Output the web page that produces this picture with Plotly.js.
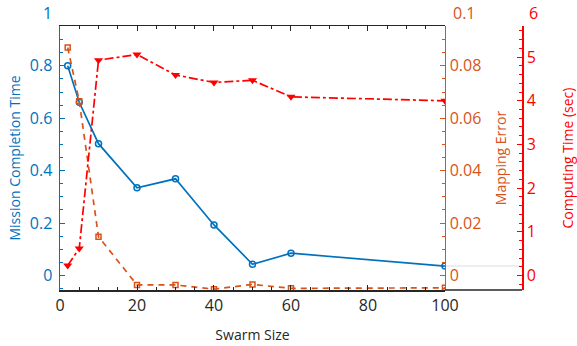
<!DOCTYPE html>
<html><head><meta charset="utf-8">
<script src="https://cdn.plot.ly/plotly-3.0.1.min.js"></script>
<style>html,body{margin:0;padding:0;background:#fff}#chart{width:577px;height:346px}</style>
</head><body><div id="chart"></div>
<script>
const swarmSize = [2, 5, 10, 20, 30, 40, 50, 60, 100];
const missionTime = [0.80, 0.661, 0.503, 0.335, 0.369, 0.193, 0.043, 0.085, 0.036];
const mappingError = [0.087, 0.0665, 0.0148, -0.0036, -0.0036, -0.0052, -0.0034, -0.0049, -0.0047];
const computingTime = [0.23, 0.62, 4.93, 5.06, 4.59, 4.42, 4.47, 4.09, 4.0];

const xTicks = [0, 20, 40, 60, 80, 100];
const leftTicks = [0, 0.2, 0.4, 0.6, 0.8];
const errTicks = [0, 0.02, 0.04, 0.06, 0.08];
const compTicks = [0, 1, 2, 3, 4, 5];
const topLabels = {left: 1, err: 0.1, comp: 6};

const BLUE = '#0072BD', ORANGE = '#D95319', RED = '#FF0000', DARK = '#262626';
const FONT = '"Open Sans", sans-serif';
const baseRange = [-0.0553, 0.952];
const leftRange = baseRange;
const errRange = baseRange.map(v => v * 0.1);
const compRange = baseRange.map(v => v * 6);
const xDomEnd = 0.8333;

function paperY(v, r) { return (v - r[0]) / (r[1] - r[0]); }

const traces = [
  {x: swarmSize, y: missionTime, type: 'scatter', mode: 'lines+markers', yaxis: 'y',
   line: {color: BLUE, width: 1.7}, marker: {symbol: 'circle-open', size: 6, color: BLUE, line: {width: 1.5, color: BLUE}}},
  {x: swarmSize, y: mappingError, type: 'scatter', mode: 'lines+markers', yaxis: 'y2',
   line: {color: ORANGE, width: 1.7, dash: '6px,5px'}, marker: {symbol: 'square-open', size: 5, color: ORANGE, line: {width: 1.5, color: ORANGE}}},
  {x: swarmSize, y: computingTime, type: 'scatter', mode: 'lines+markers', yaxis: 'y3',
   line: {color: RED, width: 1.7, dash: 'dashdot'}, marker: {symbol: 'triangle-down', size: 8, color: RED}}
];

function yAx(color, range, ticks, minorDt, title, standoff, extra) {
  return Object.assign({
    range: range, tickvals: ticks, ticks: 'inside', ticklen: 5, tickwidth: 1, tickcolor: color,
    showline: true, linecolor: color, linewidth: 1.5, showgrid: false, zeroline: false,
    tickfont: {family: FONT, size: 16, color: color},
    minor: {dtick: minorDt, ticks: 'inside', ticklen: 3, tickcolor: color, showgrid: false},
    title: {text: title, font: {family: FONT, size: 14, color: color}, standoff: standoff},
    automargin: false, fixedrange: true
  }, extra);
}

const layout = {
  width: 577, height: 346,
  margin: {l: 60, r: 55, t: 26, b: 56},
  paper_bgcolor: '#fff', plot_bgcolor: '#fff',
  showlegend: false,
  font: {family: FONT, color: DARK},
  xaxis: {
    domain: [0, xDomEnd], range: [0, 100], tickvals: xTicks,
    ticks: 'inside', ticklen: 5, tickcolor: DARK, showline: true, linecolor: DARK, linewidth: 1.5,
    mirror: 'ticks', showgrid: false, zeroline: false,
    tickfont: {family: FONT, size: 16, color: DARK},
    minor: {dtick: 5, ticks: 'inside', ticklen: 3, tickcolor: DARK, showgrid: false},
    title: {text: 'Swarm Size', font: {family: FONT, size: 14, color: DARK}, standoff: 15},
    automargin: false
  },
  yaxis: yAx(BLUE, leftRange, leftTicks, 0.05, 'Mission Completion Time', 6, {side: 'left', ticklabelstandoff: 3}),
  yaxis2: yAx(ORANGE, errRange, errTicks, 0.005, 'Mapping Error', 16, {overlaying: 'y', side: 'right', anchor: 'free', position: xDomEnd}),
  yaxis3: yAx(RED, compRange, compTicks, 0.2, 'Computing Time (sec)', 30, {overlaying: 'y', side: 'right', anchor: 'free', position: 1}),
  shapes: [
    {type: 'line', xref: 'paper', yref: 'paper', x0: xDomEnd, x1: 1, y0: 0, y1: 0, line: {color: DARK, width: 1.5}},
    {type: 'line', xref: 'paper', yref: 'y', x0: xDomEnd, x1: 1, y0: missionTime[missionTime.length - 1], y1: missionTime[missionTime.length - 1], line: {color: '#e8e8e8', width: 1.5}, layer: 'below'}
  ],
  annotations: [
    {xref: 'paper', yref: 'paper', x: 0, y: paperY(topLabels.left, leftRange), xanchor: 'right', yanchor: 'middle', xshift: -6, text: String(topLabels.left), showarrow: false, font: {family: FONT, size: 16, color: BLUE}},
    {xref: 'paper', yref: 'paper', x: xDomEnd, y: paperY(topLabels.err, errRange), xanchor: 'left', yanchor: 'middle', xshift: 6, text: String(topLabels.err), showarrow: false, font: {family: FONT, size: 16, color: ORANGE}},
    {xref: 'paper', yref: 'paper', x: 1, y: paperY(topLabels.comp, compRange), xanchor: 'left', yanchor: 'middle', xshift: 5, text: String(topLabels.comp), showarrow: false, font: {family: FONT, size: 16, color: RED}}
  ]
};

Plotly.newPlot('chart', traces, layout, {displayModeBar: false, staticPlot: true});
</script>
</body></html>
